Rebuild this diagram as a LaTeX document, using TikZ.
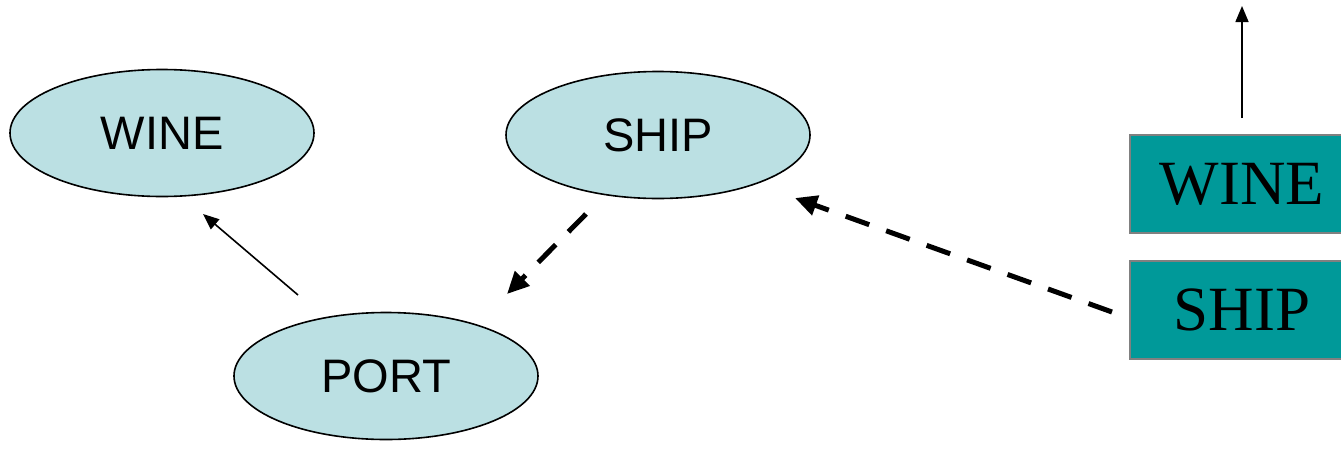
\documentclass[tikz,border=0pt]{standalone}
\usepackage{fontspec}
\setmainfont{Liberation Serif}
\newfontfamily\arialfont{Liberation Sans}
\usetikzlibrary{shapes.geometric,arrows.meta}
\definecolor{ellfill}{RGB}{187,224,227}
\definecolor{boxfill}{RGB}{0,153,153}
\definecolor{boxline}{RGB}{128,128,128}
\tikzset{
  ell/.style={ellipse, draw=black, line width=1.6pt, fill=ellfill, minimum width=304pt, minimum height=127pt, inner sep=0pt, font=\arialfont\fontsize{47}{50}\selectfont},
  tbox/.style={rectangle, draw=boxline, line width=2pt, fill=boxfill, minimum width=224pt, minimum height=98pt, inner sep=0pt, font=\fontsize{63}{66}\selectfont},
  thinarrow/.style={line width=1.6pt, -{Triangle[length=16pt,width=13pt]}},
  dasharrow/.style={line width=5pt, dash pattern=on 25pt off 18pt, -{Triangle[length=22pt,width=20pt]}}
}
\begin{document}
\begin{tikzpicture}[x=1pt,y=-1pt]
\clip (0,0) rectangle (1341,453);
\fill[white] (0,0) rectangle (1341,453);
\node[ell] (wine) at (162,133) {WINE};
\node[ell] (ship) at (658,135) {SHIP};
\node[ell] (port) at (386,376) {PORT};
\node[tbox] (wbox) at (1242,184) {WINE};
\node[tbox] (sbox) at (1242,310) {SHIP};
\coordinate (wtop) at ([shift={(0,-128)}]wbox.north);
\draw[thinarrow] ([shift={(0,-16)}]wbox.north) -- (wtop);
\draw[thinarrow] ([shift={(-88,-81)}]port.center) -- ([shift={(41,81)}]wine.center);
\draw[dasharrow] ([shift={(-72,79)}]ship.center) -- ([shift={(121,-82)}]port.center);
\draw[dasharrow] ([shift={(-17,2)}]sbox.west) -- ([shift={(137,63)}]ship.center);
\end{tikzpicture}
\end{document}
